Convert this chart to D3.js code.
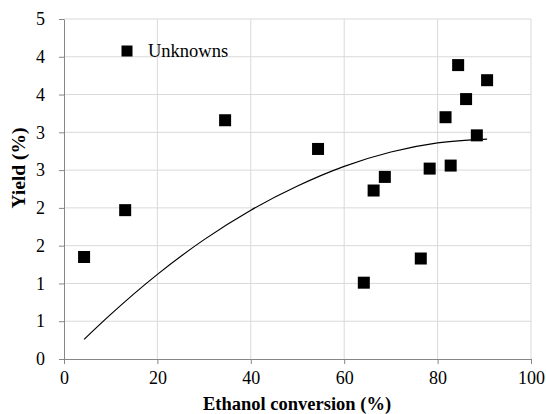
<!DOCTYPE html>
<html>
<head>
<meta charset="utf-8">
<script src="https://cdn.jsdelivr.net/npm/d3@7"></script>
<style>
  body { margin: 0; background: #fff; }
</style>
</head>
<body>
<div class="chart_area"></div>
<script>
// measured data (Unknowns)
var conversion = [4.3, 13.1, 34.5, 54.4, 64.2, 66.3, 68.7, 76.4, 78.3, 81.7, 82.8, 84.4, 86.1, 88.4, 90.6];
var yieldVals = [1.35, 1.97, 3.16, 2.78, 1.01, 2.23, 2.41, 1.33, 2.52, 3.20, 2.56, 3.89, 3.44, 2.96, 3.69];

// trend curve
var trendX = [4.3, 10, 20, 30, 40, 50, 60, 70, 80, 90.6];
var trendY = [0.26, 0.59, 1.12, 1.58, 1.97, 2.29, 2.55, 2.74, 2.86, 2.91];

var xTicks = [0, 20, 40, 60, 80, 100];
var yTicks = [0, 0.5, 1, 1.5, 2, 2.5, 3, 3.5, 4, 4.5];

var serif = "'Liberation Serif', 'Times New Roman', Times, serif";

var margin = { top: 19, right: 15, bottom: 55, left: 64 },
    width = 546 - margin.left - margin.right,
    height = 414 - margin.top - margin.bottom;

var svg = d3.select(".chart_area")
    .append("svg")
    .attr("width", 546)
    .attr("height", 414)
    .append("g")
    .attr("transform", "translate(" + margin.left + "," + margin.top + ")");

var x = d3.scaleLinear().domain([0, 100]).range([0, width]);
var y = d3.scaleLinear().domain([0, 4.5]).range([height, 0]);

// gridlines
svg.append("g").selectAll("line")
    .data(yTicks.slice(1))
    .enter().append("line")
    .attr("x1", 0).attr("x2", width)
    .attr("y1", function (d) { return y(d); })
    .attr("y2", function (d) { return y(d); })
    .style("stroke", "#d9d9d9");

svg.append("g").selectAll("line")
    .data(xTicks.slice(1))
    .enter().append("line")
    .attr("y1", 0).attr("y2", height)
    .attr("x1", function (d) { return x(d); })
    .attr("x2", function (d) { return x(d); })
    .style("stroke", "#d9d9d9");

// axes
var x_axis = svg.append("g")
    .attr("transform", "translate(0," + height + ")")
    .call(d3.axisBottom(x).tickValues(xTicks).tickSize(5).tickPadding(7).tickSizeOuter(0));

x_axis.attr("font-family", null).attr("font-size", null);
x_axis.selectAll("text").style("font-family", serif).style("font-size", "18px");
x_axis.selectAll("line").style("stroke", "#868686");
x_axis.select(".domain").style("stroke", "#868686");

var y_axis = svg.append("g")
    .call(d3.axisLeft(y).tickValues(yTicks).tickSize(5).tickPadding(14).tickSizeOuter(0)
        .tickFormat(function (d) { return Math.round(d); }));

y_axis.attr("font-family", null).attr("font-size", null);
y_axis.selectAll("text").style("font-family", serif).style("font-size", "18px");
y_axis.selectAll("line").style("stroke", "#868686");
y_axis.select(".domain").style("stroke", "#868686");

// trend curve
var line = d3.line()
    .x(function (d) { return x(d[0]); })
    .y(function (d) { return y(d[1]); })
    .curve(d3.curveMonotoneX);

svg.append("path")
    .datum(d3.zip(trendX, trendY))
    .attr("d", line)
    .style("fill", "none")
    .style("stroke", "#000")
    .style("stroke-width", 1.2);

// points
var sq = 12;
svg.selectAll(".pt")
    .data(d3.zip(conversion, yieldVals))
    .enter()
    .append("rect")
    .attr("class", "pt")
    .attr("x", function (d) { return x(d[0]) - sq / 2; })
    .attr("y", function (d) { return y(d[1]) - sq / 2; })
    .attr("width", sq)
    .attr("height", sq)
    .attr("fill", "#000");

// legend
svg.append("rect")
    .attr("x", 127 - margin.left - 5.5)
    .attr("y", 51 - margin.top - 5.5)
    .attr("width", 11)
    .attr("height", 11)
    .attr("fill", "#000");

svg.append("text")
    .attr("x", 148 - margin.left)
    .attr("y", 57 - margin.top)
    .style("font-family", serif)
    .style("font-size", "18.5px")
    .text("Unknowns");

// axis titles
svg.append("text")
    .attr("x", 297 - margin.left)
    .attr("y", 410 - margin.top)
    .attr("text-anchor", "middle")
    .style("font-family", serif)
    .style("font-size", "18.5px")
    .style("font-weight", "bold")
    .text("Ethanol conversion (%)");

svg.append("text")
    .attr("transform", "translate(" + (25 - margin.left) + "," + (168 - margin.top) + ") rotate(-90)")
    .attr("text-anchor", "middle")
    .style("font-family", serif)
    .style("font-size", "19.5px")
    .style("font-weight", "bold")
    .text("Yield (%)");
</script>
</body>
</html>
